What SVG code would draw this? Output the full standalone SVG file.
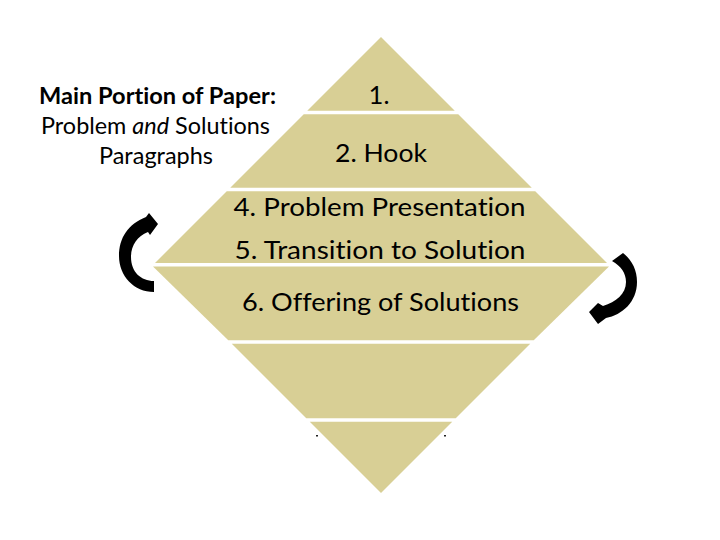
<svg xmlns="http://www.w3.org/2000/svg" width="720" height="540" viewBox="0 0 720 540">
<style>
.band{fill:#D8CF95;}
.t{font-family:Lato,"Liberation Sans",sans-serif;fill:#000;font-variant-ligatures:none;font-feature-settings:"liga" 0,"clig" 0;}
.lbl{font-size:25.5px;}
.cap{font-size:22.5px;}
.arrow{fill:#000;}
</style>
<rect x="0" y="0" width="720" height="540" fill="#FFFFFF"/>
<g id="caption">
<text class="t cap" x="39" y="103.5" font-weight="bold" textLength="237" lengthAdjust="spacingAndGlyphs">Main Portion of Paper:</text>
<text class="t cap" x="41" y="133.5" textLength="229" lengthAdjust="spacingAndGlyphs">Problem <tspan font-style="italic">and</tspan> Solutions</text>
<text class="t cap" x="99" y="163.5" textLength="114" lengthAdjust="spacingAndGlyphs">Paragraphs</text>
</g>
<g id="band1">
<polygon class="band" points="381,37 454.75,110.75 307.25,110.75"/>
<text class="t lbl" x="379" y="103.5" text-anchor="middle" font-size="27px">1.</text>
</g>
<g id="band2">
<polygon class="band" points="303.75,114.25 458.25,114.25 531.75,187.75 230.25,187.75"/>
<text class="t lbl" x="335" y="162" textLength="92" lengthAdjust="spacingAndGlyphs">2. Hook</text>
</g>
<g id="band3">
<polygon class="band" points="226.75,191.25 535.25,191.25 607,263 155,263"/>
<text class="t lbl" x="233.5" y="215.5" textLength="292" lengthAdjust="spacingAndGlyphs">4. Problem Presentation</text>
<text class="t lbl" x="234.5" y="259" textLength="291" lengthAdjust="spacingAndGlyphs">5. Transition to Solution</text>
</g>
<g id="band4">
<polygon class="band" points="153,266.5 609,266.5 533.75,340.25 228.25,340.25"/>
<text class="t lbl" x="242" y="311" textLength="277" lengthAdjust="spacingAndGlyphs">6. Offering of Solutions</text>
</g>
<g id="band5">
<polygon class="band" points="231.75,343.75 530.25,343.75 455.75,418.25 306.25,418.25"/>
</g>
<g id="band6">
<polygon class="band" points="309.75,421.75 452.25,421.75 381,493"/>
<rect x="316" y="435" width="2" height="1.5" fill="#222"/>
<rect x="444" y="435" width="2" height="1.5" fill="#222"/>
</g>
<g id="connectors">
<path class="arrow" d="M154,292 C134,292 119,276 119,256 C119,238 128,224 146,217 L149,213 L158,224 L150,235 L148,232 C137,236 131,246 131,257 C131,272 141,281 154,281 Z"/>
<path class="arrow" d="M623,253 C632,260 637,270 637,282 C637,302 622,315 606,318 L598,324 L589,312 L598,303 L603,306 C616,302 626,294 626,282 C626,273 621,266 612,261 Z"/>
</g>
</svg>
